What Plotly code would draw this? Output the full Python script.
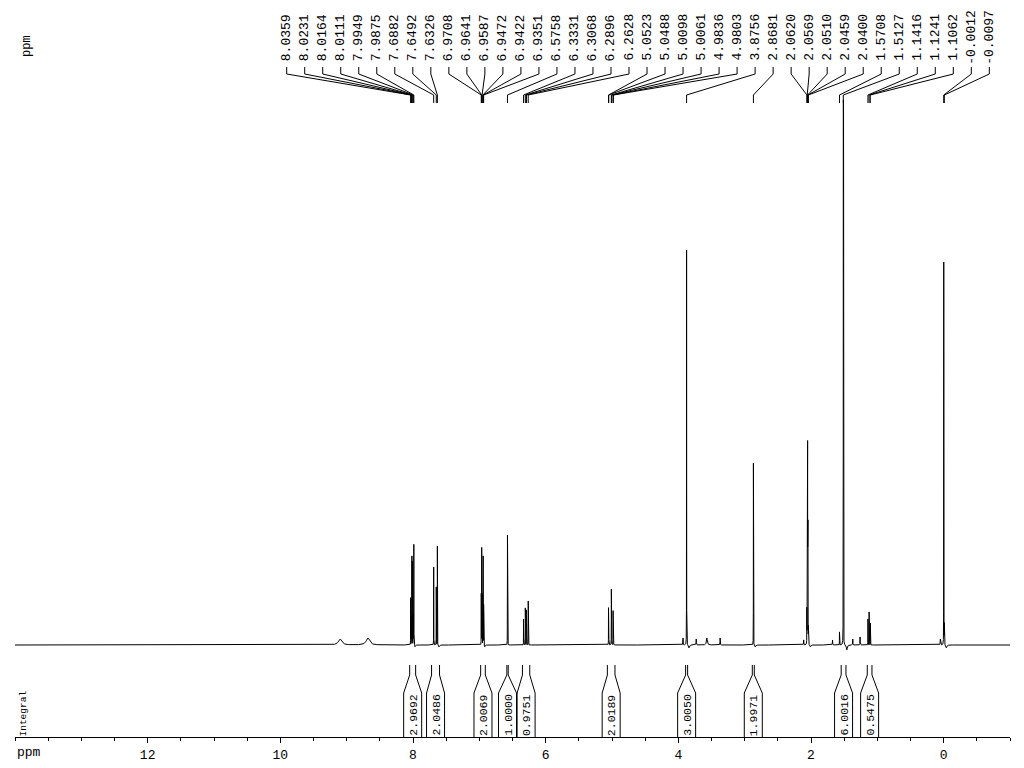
import numpy as np
import plotly.graph_objects as go

# ---------------- data ----------------
peak_labels = ["8.0359", "8.0231", "8.0164", "8.0111", "7.9949", "7.9875",
               "7.6882", "7.6492", "7.6326",
               "6.9708", "6.9641", "6.9587", "6.9472", "6.9422", "6.9351",
               "6.5758",
               "6.3331", "6.3068", "6.2896", "6.2628",
               "5.0523", "5.0488", "5.0098", "5.0061", "4.9836", "4.9803",
               "3.8756", "2.8681",
               "2.0620", "2.0569", "2.0510", "2.0459", "2.0400",
               "1.5708", "1.5127",
               "1.1416", "1.1241", "1.1062",
               "-0.0012", "-0.0097"]
peak_height = [47, 45, 87, 82, 92, 100,
               78, 58, 99,
               60, 96, 50, 40, 88, 40,
               110,
               26, 37, 35, 44,
               36, 34, 54, 50, 33, 30,
               395, 182,
               65, 130, 200, 120, 62,
               13, 800,
               26, 33, 22,
               383, 20]

# unlabelled small / broad signals
extra_ppm = [9.10, 8.68, 3.93, 3.73, 3.57, 3.37, 2.11, 1.675, 1.37, 1.26, 0.05]
extra_height = [6, 7, 7, 6, 7, 7, 5, 5, 6, 8, 6]
extra_width = [0.03, 0.03, 0.002, 0.002, 0.008, 0.002, 0.002, 0.002, 0.002, 0.002, 0.002]

# small baseline dips next to strong lines
dip_ppm = [7.97, 7.61, 6.92, 3.84, 2.84, 2.01, 1.46, -0.04]
dip_height = [-2, -2, -2, -3, -2, -2, -5, -3]

integral_text = ["2.9692", "2.0486", "2.0069", "1.0000", "0.9751",
                 "2.0189", "3.0050", "1.9971", "6.0016", "0.5475"]
integral_start = [8.05, 7.72, 6.98, 6.585, 6.35, 5.07, 3.89, 2.885, 1.545, 1.152]
integral_end = [7.96, 7.60, 6.91, 6.565, 6.24, 4.955, 3.86, 2.855, 1.473, 1.081]

tick_vals = [12, 10, 8, 6, 4, 2, 0]
tick_text = ["12", "10", "8", "6", "4", "2", "0"]

X_LEFT, X_RIGHT = 14.0, -1.0

# ---------------- layout constants (pixels) ----------------
W, H = 1024, 768
ML, MR, MT, MB = 15, 14, 0, 31
PW = W - ML - MR
PH = H - MT - MB
BASE_PX = 645      # spectrum baseline
TOP_PX = 100       # top of spectrum area
LABEL_X0_PX = 286.7
LABEL_STEP_PX = 18.016

def yp(px):
    return 1 - (px - MT) / PH

def xp_ppm(ppm):
    return (X_LEFT - ppm) / (X_LEFT - X_RIGHT)

def xp_px(px):
    return (px - ML) / PW

# ---------------- spectrum ----------------
peak_ppm = [float(s) for s in peak_labels]
sharp_w = 0.0007
grid = [np.arange(X_LEFT, X_RIGHT - 1e-9, -0.004)]
for p in peak_ppm + extra_ppm + dip_ppm:
    grid.append(np.linspace(p - 0.012, p + 0.012, 97))
x = np.unique(np.concatenate(grid))[::-1]
y = np.zeros_like(x)
for p, h in zip(peak_ppm, peak_height):
    y += h / (1 + ((x - p) / sharp_w) ** 2)
for p, h, w in zip(extra_ppm, extra_height, extra_width):
    y += h / (1 + ((x - p) / w) ** 2)
for p, h in zip(dip_ppm, dip_height):
    y += h / (1 + ((x - p) / 0.008) ** 2)

fig = go.Figure()
fig.add_trace(go.Scatter(x=x, y=y, mode="lines",
                         line=dict(color="black", width=1),
                         hoverinfo="skip", showlegend=False))

shapes = []
annotations = []
label_font = dict(family="Liberation Mono", size=13, color="black")

# peak labels + connectors
for i, (lab, p) in enumerate(zip(peak_labels, peak_ppm)):
    lx = xp_px(LABEL_X0_PX + i * LABEL_STEP_PX)
    px = xp_ppm(p)
    shapes.append(dict(type="path", xref="paper", yref="paper",
                       path=f"M {lx},{yp(67)} L {lx},{yp(74)} L {px},{yp(95)} L {px},{yp(103)}",
                       line=dict(color="black", width=1)))
    annotations.append(dict(xref="paper", yref="paper", x=lx, y=yp(37.5),
                            text=lab, textangle=-90, showarrow=False,
                            xanchor="center", yanchor="middle",
                            font=label_font, borderpad=0))

# integrals
box_hw = 9 / PW * (X_LEFT - X_RIGHT)
for t, s, e in zip(integral_text, integral_start, integral_end):
    c = (s + e) / 2
    for edge, bx in ((s, c + box_hw), (e, c - box_hw)):
        shapes.append(dict(type="path", xref="x", yref="paper",
                           path=f"M {edge},{yp(665)} L {edge},{yp(675)} L {bx},{yp(693)} L {bx},{yp(737)}",
                           line=dict(color="black", width=1)))
    annotations.append(dict(xref="x", yref="paper", x=c, y=yp(715),
                            text=t, textangle=-90, showarrow=False,
                            xanchor="center", yanchor="middle",
                            font=dict(family="Liberation Mono", size=11.5, color="black"),
                            borderpad=0))

annotations.append(dict(xref="paper", yref="paper", x=xp_px(22.5), y=yp(714),
                        text="Integral", textangle=-90, showarrow=False,
                        xanchor="center", yanchor="middle",
                        font=dict(family="Liberation Mono", size=9.5, color="black"),
                        borderpad=0))
annotations.append(dict(xref="paper", yref="paper", x=xp_px(27), y=yp(46),
                        text="ppm", textangle=-90, showarrow=False,
                        xanchor="center", yanchor="middle",
                        font=dict(family="Liberation Mono", size=12, color="black"),
                        borderpad=0))
annotations.append(dict(xref="paper", yref="paper", x=xp_px(16), y=yp(752),
                        text="ppm", showarrow=False,
                        xanchor="left", yanchor="middle",
                        font=dict(family="Liberation Mono", size=13, color="black"),
                        borderpad=0))

fig.update_layout(
    width=W, height=H,
    margin=dict(l=ML, r=MR, t=MT, b=MB, pad=0),
    paper_bgcolor="white", plot_bgcolor="white",
    shapes=shapes, annotations=annotations,
    xaxis=dict(range=[X_LEFT, X_RIGHT], showgrid=False, zeroline=False,
               showline=True, linecolor="black", linewidth=1,
               ticks="outside", ticklen=5, tickcolor="black", tickwidth=1,
               tickvals=tick_vals, ticktext=tick_text,
               tickfont=dict(family="Liberation Mono", size=13, color="black"),
               minor=dict(dtick=0.5, tick0=0, ticks="outside", ticklen=3,
                          tickcolor="black", tickwidth=1, showgrid=False)),
    yaxis=dict(range=[-(PH + MT - BASE_PX), BASE_PX - TOP_PX],
               domain=[0, yp(TOP_PX)], visible=False, fixedrange=True),
)

fig.write_html("out.html",
               config={"displayModeBar": False},
               post_script="document.body.style.margin='0px';"
                           "document.documentElement.style.overflow='hidden';")
